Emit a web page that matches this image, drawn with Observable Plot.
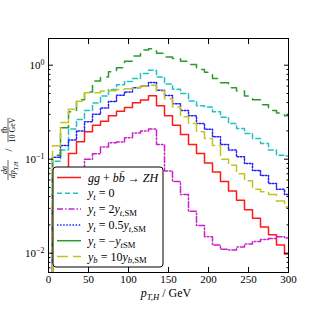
<!DOCTYPE html>
<html><head><meta charset="utf-8">
<script src="https://cdn.jsdelivr.net/npm/d3@7"></script>
<script src="https://cdn.jsdelivr.net/npm/@observablehq/plot@0.6"></script>
<style>body{margin:0;background:#fff} svg{display:block} text{white-space:pre}</style>
</head><body><div id="chart"></div>
<script>
// pT,H bin centres (GeV)
const pT = [0,10,20,30,40,50,60,70,80,90,100,110,120,130,140,150,160,170,180,190,200,210,220,230,240,250,260,270,280,290,300];
// dσ/dpT,H  [fb / 10 GeV]
const sigmaSM   = [0.004,0.03,0.07,0.115,0.153,0.196,0.23,0.254,0.289,0.324,0.355,0.398,0.425,0.472,0.37,0.289,0.23,0.183,0.143,0.115,0.091,0.073,0.058,0.046,0.0365,0.029,0.0236,0.019,0.0157,0.0122,0.0098];
const sigmaYt0  = [0.004,0.095,0.125,0.21,0.265,0.33,0.395,0.47,0.55,0.62,0.67,0.72,0.815,0.885,0.75,0.63,0.555,0.5,0.415,0.37,0.36,0.32,0.28,0.24,0.212,0.188,0.166,0.147,0.125,0.11,0.108];
const sigmaYt2  = [0.002,0.03,0.045,0.06,0.08,0.1,0.114,0.135,0.15,0.152,0.169,0.19,0.2,0.21,0.143,0.075,0.058,0.042,0.028,0.0197,0.015,0.0122,0.011,0.0108,0.0116,0.0125,0.0133,0.014,0.0143,0.015,0.0145];
const sigmaYt05 = [0.004,0.105,0.14,0.16,0.2,0.25,0.3,0.35,0.41,0.48,0.52,0.575,0.6,0.655,0.54,0.475,0.39,0.33,0.29,0.24,0.208,0.173,0.143,0.125,0.106,0.09,0.076,0.067,0.055,0.048,0.042];
const sigmaYtNeg= [0.004,0.11,0.216,0.32,0.43,0.52,0.68,0.75,0.85,0.94,1.1,1.25,1.45,1.5,1.34,1.22,1.18,1.1,1.02,0.9,0.84,0.72,0.65,0.575,0.53,0.47,0.43,0.38,0.33,0.31,0.29];
const sigmaYb10 = [0.003,0.139,0.245,0.34,0.414,0.508,0.51,0.53,0.535,0.55,0.56,0.58,0.6,0.61,0.53,0.44,0.36,0.282,0.24,0.196,0.166,0.14,0.1,0.086,0.07,0.059,0.048,0.045,0.042,0.036,0.031];
const xTicks = [0,50,100,150,200,250,300];
const yTicks = [1,0.1,0.01];

const series = [
  {values: sigmaSM,    color:"#ff1a1a", dash:null,          legend:[{t:"gg",i:1},{t:" + "},{t:"b",i:1},{t:"b\u0304",i:1},{t:" \u2192 "},{t:"ZH",i:1}]},
  {values: sigmaYt0,   color:"#1fc4c4", dash:"5,3",         legend:[{t:"y",i:1},{t:"t",i:1,sub:1},{t:" = 0"}]},
  {values: sigmaYt2,   color:"#cc1fcc", dash:"6,2,1.5,2",   legend:[{t:"y",i:1},{t:"t",i:1,sub:1},{t:" = 2"},{t:"y",i:1},{t:"t",i:1,sub:1},{t:",SM",sub:1}]},
  {values: sigmaYt05,  color:"#1f1fff", dash:"1.5,1.6",     legend:[{t:"y",i:1},{t:"t",i:1,sub:1},{t:" = 0.5"},{t:"y",i:1},{t:"t",i:1,sub:1},{t:",SM",sub:1}]},
  {values: sigmaYtNeg, color:"#2a9a2a", dash:"9,7", legendDash:null, legend:[{t:"y",i:1},{t:"t",i:1,sub:1},{t:" = \u2212"},{t:"y",i:1},{t:"t",i:1,sub:1},{t:"SM",sub:1}]},
  {values: sigmaYb10,  color:"#c4c41f", dash:"11,5",        legend:[{t:"y",i:1},{t:"b",i:1,sub:1},{t:" = 10"},{t:"y",i:1},{t:"b",i:1,sub:1},{t:",SM",sub:1}]}
];

const minor = [];
for (let e = -3; e <= 0; e++) for (let k = 2; k <= 9; k++) { const v = k * Math.pow(10, e); if (v > 0.0062 && v < 1.92) minor.push(v); }

const FONT = "Liberation Serif";
const chart = Plot.plot({
  width: 320, height: 320,
  marginLeft: 48, marginRight: 32, marginTop: 38, marginBottom: 48,
  style: {fontFamily: FONT, fontSize: "11px", color: "black", background: "white"},
  x: {domain: [0, 300]},
  y: {type: "log", domain: [0.00623, 1.923]},
  marks: [
    ...series.map(s => Plot.line(pT.map((x, i) => ({x, y: s.values[i]})), {
      x: "x", y: "y", curve: "step", stroke: s.color, strokeWidth: 1.5,
      strokeDasharray: s.dash || undefined, clip: true
    })),
    Plot.frame({stroke: "black", strokeWidth: 1}),
    Plot.axisX(xTicks, {anchor: "bottom", tickSize: -5, tickFormat: () => "", label: null}),
    Plot.axisX(xTicks, {anchor: "top", tickSize: -5, tickFormat: () => "", label: null}),
    Plot.axisX(xTicks, {anchor: "bottom", tickSize: 0, tickPadding: 3, label: null, fontSize: 11}),
    Plot.axisY(yTicks, {anchor: "left", tickSize: -5, tickFormat: () => "", label: null}),
    Plot.axisY(yTicks, {anchor: "right", tickSize: -5, tickFormat: () => "", label: null}),
    Plot.axisY(minor, {anchor: "left", tickSize: -2.5, tickFormat: () => "", label: null}),
    Plot.axisY(minor, {anchor: "right", tickSize: -2.5, tickFormat: () => "", label: null}),
    Plot.axisY(yTicks, {anchor: "left", tickSize: 0, tickPadding: 4, label: null, fontSize: 11,
      tickFormat: d => "10^" + Math.round(Math.log10(d))})
  ]
});
document.getElementById("chart").append(chart);

const svg = d3.select(chart);

function rich(sel, parts, size) {
  let shift = 0;
  parts.forEach(p => {
    const target = p.sub ? 2.8 : p.sup ? -4 : 0;
    const ts = sel.append("tspan").text(p.t);
    if (target !== shift) { ts.attr("dy", target - shift); shift = target; }
    if (p.sub || p.sup) ts.attr("font-size", size * 0.72);
    if (p.i) ts.attr("font-style", "italic");
  });
}

// superscript y tick labels
svg.selectAll("text").each(function() {
  const t = this.textContent;
  if (t.startsWith("10^")) {
    const exp = t.slice(3).replace("-", "\u2212");
    const s = d3.select(this);
    s.text("");
    rich(s, [{t: "10"}, {t: exp, sup: 1}], 11);
  }
});

// x axis title
const xt = svg.append("text").attr("x", 166).attr("y", 297).attr("text-anchor", "middle")
  .attr("font-family", FONT).attr("font-size", 12);
rich(xt, [{t: "p", i: 1}, {t: "T,H", i: 1, sub: 1}, {t: " / GeV"}], 12);

// y axis title (stacked fractions)
const yg = svg.append("g").attr("transform", "translate(8,150) rotate(-90)")
  .attr("font-family", FONT).attr("font-size", 8).attr("text-anchor", "middle");
const f1 = -20, f2 = 20;
yg.append("line").attr("x1", f1 - 10).attr("x2", f1 + 10).attr("y1", 0).attr("y2", 0).attr("stroke", "black").attr("stroke-width", 0.6);
rich(yg.append("text").attr("x", f1).attr("y", -1.5), [{t: "d\u03c3", i: 1}], 8);
rich(yg.append("text").attr("x", f1).attr("y", 7), [{t: "dp", i: 1}, {t: "T,H", i: 1, sub: 1}], 8);
rich(yg.append("text").attr("x", 0).attr("y", 4).attr("font-size", 11), [{t: "/"}], 11);
yg.append("line").attr("x1", f2 - 12).attr("x2", f2 + 12).attr("y1", 0).attr("y2", 0).attr("stroke", "black").attr("stroke-width", 0.6);
rich(yg.append("text").attr("x", f2).attr("y", -1.5), [{t: "fb"}], 8);
rich(yg.append("text").attr("x", f2).attr("y", 7), [{t: "10 GeV"}], 8);

// legend
const LFS = 12;
const lg = svg.append("g").attr("font-family", FONT).attr("font-size", LFS).attr("text-anchor", "start");
lg.append("rect").attr("x", 53).attr("y", 167).attr("width", 110).attr("height", 100).attr("rx", 3)
  .attr("fill", "white").attr("stroke", "black").attr("stroke-width", 1);
series.forEach((s, i) => {
  const cy = 177.5 + 15.8 * i;
  const dash = s.legendDash !== undefined ? s.legendDash : s.dash;
  lg.append("line").attr("x1", 57).attr("x2", 81).attr("y1", cy).attr("y2", cy)
    .attr("stroke", s.color).attr("stroke-width", 1.5).attr("stroke-dasharray", dash);
  rich(lg.append("text").attr("x", 88).attr("y", cy + 4).attr("text-anchor", "start"), s.legend, LFS);
});
</script>
</body></html>
